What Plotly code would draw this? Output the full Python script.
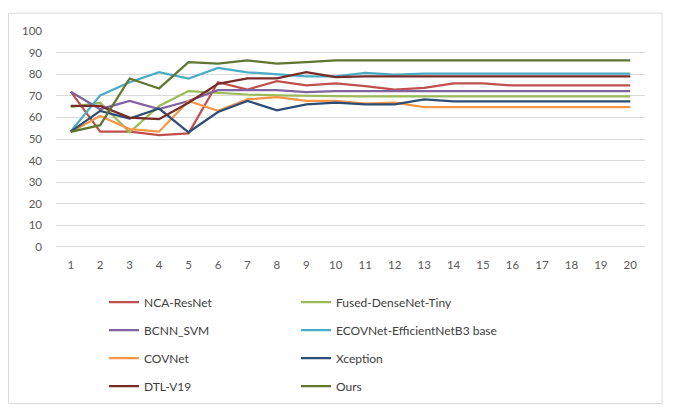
import plotly.graph_objects as go

epochs = list(range(1, 21))
series_names = ["NCA-ResNet", "Fused-DenseNet-Tiny", "BCNN_SVM", "ECOVNet-EfficientNetB3 base",
                "COVNet", "Xception", "DTL-V19", "Ours"]

nca_resnet = [71.9, 53.4, 53.4, 51.8, 52.6, 76.3, 72.9, 76.8, 74.8, 75.7,
              74.5, 72.9, 73.7, 75.7, 75.7, 74.8, 74.8, 74.8, 74.8, 74.8]
fused_densenet = [64.8, 66.8, 53.1, 65.3, 72.2, 71.4, 70.6, 70.2, 69.9, 69.9,
                  69.7, 69.7, 69.7, 69.7, 69.7, 69.7, 69.7, 69.7, 69.7, 69.7]
bcnn_svm = [71.9, 63.8, 67.6, 63.8, 67.6, 72.6, 72.6, 72.6, 71.7, 72.2,
            72.2, 72.2, 72.2, 72.2, 72.2, 72.2, 72.2, 72.2, 72.2, 72.2]
ecovnet = [53.5, 70.2, 76.3, 80.9, 78.0, 82.9, 80.9, 80.1, 79.0, 79.0,
           80.6, 79.8, 80.3, 80.3, 80.3, 80.3, 80.3, 80.3, 80.3, 80.3]
covnet = [53.1, 60.7, 54.6, 53.4, 67.6, 63.0, 68.3, 69.4, 67.6, 67.6,
          66.4, 66.8, 64.8, 64.8, 64.8, 64.8, 64.8, 64.8, 64.8, 64.8]
xception = [53.4, 63.0, 59.5, 64.1, 53.1, 62.5, 67.6, 63.3, 66.0, 66.8,
            66.0, 66.0, 68.3, 67.4, 67.4, 67.4, 67.4, 67.4, 67.4, 67.4]
dtl_v19 = [65.3, 65.3, 59.9, 59.2, 66.8, 75.5, 78.1, 78.1, 80.9, 78.7,
           79.0, 79.0, 79.0, 79.0, 79.0, 79.0, 79.0, 79.0, 79.0, 79.0]
ours = [53.3, 56.4, 78.0, 73.4, 85.6, 84.9, 86.4, 84.9, 85.6, 86.4,
        86.4, 86.4, 86.4, 86.4, 86.4, 86.4, 86.4, 86.4, 86.4, 86.4]

y_ticks = [0, 10, 20, 30, 40, 50, 60, 70, 80, 90, 100]

all_values = [nca_resnet, fused_densenet, bcnn_svm, ecovnet, covnet, xception, dtl_v19, ours]
colors = ["#C0504D", "#9BBB59", "#8064A2", "#4BACC6", "#F79646", "#2C4D75", "#772C2A", "#5F7530"]

FONT = "Lato, sans-serif"

fig = go.Figure()
x_labels = [str(e) for e in epochs]
for i, (name, vals, col) in enumerate(zip(series_names, all_values, colors)):
    fig.add_trace(go.Scatter(x=x_labels, y=vals, name=name, mode="lines",
                             legend="legend" if i % 2 == 0 else "legend2",
                             legendgroup=name,
                             line=dict(color=col, width=2.25)))

# page body has an 8px margin, so the figure is offset by 8px
OFF = 8
W, H = 675, 405
ml, mr, mt, mb = 48, 38, 23, 164
pw = W - ml - mr
ph = H - mt - mb

def px_x(p_abs):
    return (p_abs - OFF - ml) / pw

def px_y(p_abs):
    return (H - mb - (p_abs - OFF)) / ph

leg_common = dict(orientation="v", yanchor="top", xanchor="left", itemwidth=30,
                  tracegroupgap=9, font=dict(family=FONT, size=12, color="#404040"),
                  traceorder="grouped", bgcolor="rgba(0,0,0,0)")

fig.update_layout(
    width=W, height=H,
    margin=dict(l=ml, r=mr, t=mt, b=mb),
    paper_bgcolor="white", plot_bgcolor="white",
    font=dict(family=FONT, size=12, color="#595959"),
    showlegend=True,
    legend=dict(x=px_x(104), y=px_y(290), **leg_common),
    legend2=dict(x=px_x(296), y=px_y(290), **leg_common),
    xaxis=dict(type="category", range=[-0.5, 19.5], showgrid=False, showline=False, ticks="",
               tickfont=dict(family=FONT, size=11.5, color="#595959"), zeroline=False,
               ticklabelstandoff=9, automargin=False),
    yaxis=dict(range=[0, 100], tickvals=y_ticks, showgrid=True, gridcolor="#D9D9D9",
               gridwidth=1, zeroline=False, showline=False, ticks="",
               tickfont=dict(family=FONT, size=11.5, color="#595959"), ticklabelstandoff=13,
               automargin=False),
    shapes=[
        dict(type="line", xref="paper", yref="y", x0=0, x1=1, y0=0, y1=0,
             line=dict(color="#D9D9D9", width=2.25), layer="below"),
        dict(type="rect", xref="paper", yref="paper",
             x0=px_x(8.5), x1=px_x(662), y0=px_y(407), y1=px_y(13),
             line=dict(color="#D9D9D9", width=1), layer="below"),
    ],
)

fig.write_html("out.html")
